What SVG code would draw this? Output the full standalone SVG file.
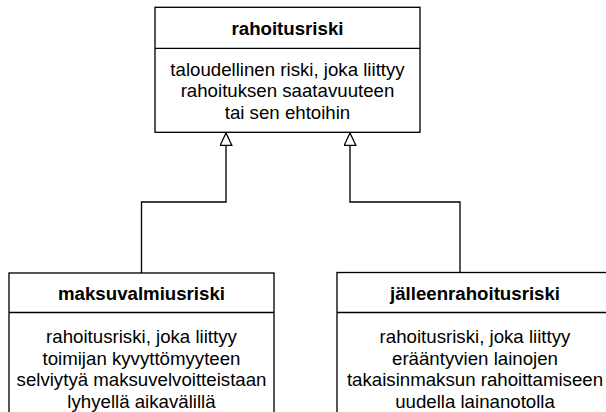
<svg xmlns="http://www.w3.org/2000/svg" width="606" height="412" viewBox="0 0 606 412">
<style>
.box{fill:#fff;stroke:#000;stroke-width:1.33}
.div{stroke:#000;stroke-width:1.33}
.t{font-family:"Liberation Sans",Arial,sans-serif;font-size:18.67px;fill:#000;text-anchor:middle}
.h{font-weight:bold}
.c{fill:none;stroke:#000;stroke-width:1.33}
</style>
<defs>
<marker id="inh" markerUnits="userSpaceOnUse" markerWidth="16" markerHeight="16" refX="13" refY="6.5" orient="auto">
<path d="M0.7,0.7 L13,6.5 L0.7,12.3 Z" fill="#fff" stroke="#000" stroke-width="1.33"/>
</marker>
</defs>
<g id="connectors">
<path class="c" d="M141.5,273 V202 H226 V133" marker-end="url(#inh)"/>
<path class="c" d="M460,272.5 V202 H350 V133" marker-end="url(#inh)"/>
</g>
<g id="rahoitusriski">
<rect class="box" x="155" y="7.3" width="265" height="125"/>
<line class="div" x1="155" y1="48.3" x2="420" y2="48.3"/>
<text class="t h" x="287.5" y="34.5">rahoitusriski</text>
<text class="t" x="287.5" y="75.5">taloudellinen riski, joka liittyy</text>
<text class="t" x="287.5" y="97">rahoituksen saatavuuteen</text>
<text class="t" x="287.5" y="118.5">tai sen ehtoihin</text>
</g>
<g id="maksuvalmiusriski">
<rect class="box" x="9" y="273" width="265" height="150"/>
<line class="div" x1="9" y1="312.5" x2="274" y2="312.5"/>
<text class="t h" x="141.5" y="299.5">maksuvalmiusriski</text>
<text class="t" x="141.5" y="343">rahoitusriski, joka liittyy</text>
<text class="t" x="141.5" y="364.5">toimijan kyvyttömyyteen</text>
<text class="t" x="141.5" y="386">selviytyä maksuvelvoitteistaan</text>
<text class="t" x="141.5" y="407.5">lyhyellä aikavälillä</text>
</g>
<g id="jalleenrahoitusriski">
<rect class="box" x="337" y="272.5" width="276" height="150"/>
<line class="div" x1="337" y1="312.5" x2="613" y2="312.5"/>
<text class="t h" x="475" y="299.5">jälleenrahoitusriski</text>
<text class="t" x="475" y="343">rahoitusriski, joka liittyy</text>
<text class="t" x="475" y="364.5">erääntyvien lainojen</text>
<text class="t" x="475" y="386">takaisinmaksun rahoittamiseen</text>
<text class="t" x="475" y="407.5">uudella lainanotolla</text>
</g>
</svg>
